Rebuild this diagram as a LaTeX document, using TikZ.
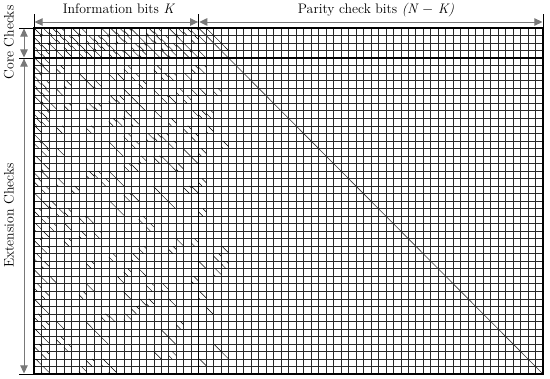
\documentclass[tikz,border=0pt]{standalone}
\usetikzlibrary{arrows.meta}
\definecolor{dimgray}{RGB}{120,120,120}
\definecolor{gridgray}{RGB}{40,40,40}
\tikzset{
  gridline/.style={line width=0.5pt, draw=gridgray},
  frameline/.style={line width=1.4pt, draw=black},
  shiftline/.style={line width=0.45pt, draw=black},
  diagline/.style={line width=0.6pt, draw=black!80},
  dimarrow/.style={{Triangle[length=8pt,width=7.5pt]}-{Triangle[length=8pt,width=7.5pt]},
                   line width=0.9pt, draw=dimgray},
  tickline/.style={line width=0.6pt, draw=black},
  dimlabel/.style={font=\fontsize{13.8}{16}\selectfont, inner sep=0pt, anchor=base},
}

\begin{document}
\begin{tikzpicture}[x=1pt, y=-1pt]
  \useasboundingbox (0,0) rectangle (550,379);

  \begin{scope}[shift={(34,28)}, x=7.485pt, y=-7.522pt]
    \coordinate (tl) at (0,0);
    \coordinate (tr) at (68,0);
    \coordinate (bl) at (0,46);
    \coordinate (br) at (68,46);
    \coordinate (tk) at (22,0);
    \coordinate (bk) at (22,46);
    \coordinate (lc) at (0,4);
    \coordinate (rc) at (68,4);

    % base matrix grid
    \foreach \c in {0,...,68} \draw[gridline] (\c,0) -- (\c,46);
    \foreach \r in {0,...,46} \draw[gridline] (0,\r) -- (68,\r);

    % shifted identities
    \foreach \r/\cols in {
      0/{0,1,2,3,5,6,9,10,11,12,13,15,16,18,19,20,21},
      1/{0,2,3,4,5,7,8,9,11,12,14,15,16,17,19,21},
      2/{0,1,2,4,5,6,7,8,9,10,13,14,15,17,18,19,20},
      3/{0,1,3,4,6,7,8,10,11,12,13,14,16,17,18,20,21},
      4/{0,1}, 5/{0,1,3,12,16,21,22}, 6/{0,6,10,11,13,17,18,20},
      7/{0,1,4,7,8,14}, 8/{0,1,3,12,16,19,21,22,24}, 9/{0,1,10,11,13,17,18,20},
      10/{1,2,4,7,8,14}, 11/{0,1,12,16,21,22,23}, 12/{0,1,10,11,13,18},
      13/{0,3,7,20,23}, 14/{0,12,15,16,17,21}, 15/{0,1,10,13,18,25},
      16/{1,3,11,20,22}, 17/{0,14,16,17,21}, 18/{1,12,13,18,19},
      19/{0,1,7,8,10}, 20/{0,3,9,11,22}, 21/{1,5,16,20,21},
      22/{0,12,13,17}, 23/{1,2,10,18}, 24/{0,3,4,11,22},
      25/{1,6,7,14}, 26/{0,2,4,15}, 27/{1,6,8},
      28/{0,4,19,21}, 29/{1,14,18,25}, 30/{0,10,13,24},
      31/{1,7,22,25}, 32/{0,12,14,24}, 33/{1,2,11,21},
      34/{0,7,15,17}, 35/{1,6,12,22}, 36/{0,14,15,18},
      37/{1,13,23}, 38/{0,9,10,12}, 39/{1,3,7,19},
      40/{0,8,17}, 41/{1,3,9,18}, 42/{0,4,24},
      43/{1,16,18,25}, 44/{0,7,9,22}, 45/{1,6,10}} {
      \foreach \c in \cols {
        \pgfmathsetmacro\f{mod(\r*7+\c*11,9)/9}
        \draw[shiftline] ({\c+\f},\r) -- ({\c+1},{\r+1-\f});
        \draw[shiftline] (\c,{\r+1-\f}) -- ({\c+\f},{\r+1});
      }
    }
    % dual diagonal of the core part
    \foreach \r/\c in {0/23,1/24,2/25,1/22,3/22}
      \draw[shiftline] (\c,\r) -- ({\c+1},{\r+1});
    \draw[diagline] (tk) -- (br);

    % frame
    \draw[frameline] (tl) rectangle (br);
    \draw[frameline] (tk) -- (bk);
    \draw[frameline] (lc) -- (rc);
  \end{scope}

  % dimension ticks
  \draw[tickline] (tl) -- ++(0,-14);
  \draw[tickline] (tk) -- ++(0,-14);
  \draw[tickline] (tr) -- ++(0,-14);
  \draw[tickline] (tl) -- ++(-15,0);
  \draw[tickline] (lc) -- ++(-15,0);
  \draw[tickline] (bl) -- ++(-15,0);

  \coordinate (kL) at ([xshift=0.6pt,yshift=6pt]tl);
  \coordinate (kR) at ([xshift=-0.6pt,yshift=6pt]tk);
  \coordinate (pL) at ([xshift=0.6pt,yshift=6pt]tk);
  \coordinate (pR) at ([xshift=-0.6pt,yshift=6pt]tr);
  \coordinate (cT) at ([xshift=-10pt,yshift=-0.6pt]tl);
  \coordinate (cB) at ([xshift=-10pt,yshift=0.6pt]lc);
  \coordinate (eT) at ([xshift=-10pt,yshift=-0.6pt]lc);
  \coordinate (eB) at ([xshift=-10pt,yshift=0.6pt]bl);

  \draw[dimarrow] (kL) -- (kR);
  \draw[dimarrow] (pL) -- (pR);
  \draw[dimarrow] (cT) -- (cB);
  \draw[dimarrow] (eT) -- (eB);

  \node[dimlabel] (infolbl) at (119,14) {Information bits \textit{K}};
  \node[dimlabel] (paritylbl) at (376,14) {Parity check bits \textit{(N $-$ K)}};
  \node[dimlabel, rotate=90] (corelbl) at (13.5,42.5) {Core Checks};
  \node[dimlabel, rotate=90] (extlbl) at (13.5,215.5) {Extension Checks};
\end{tikzpicture}
\end{document}
